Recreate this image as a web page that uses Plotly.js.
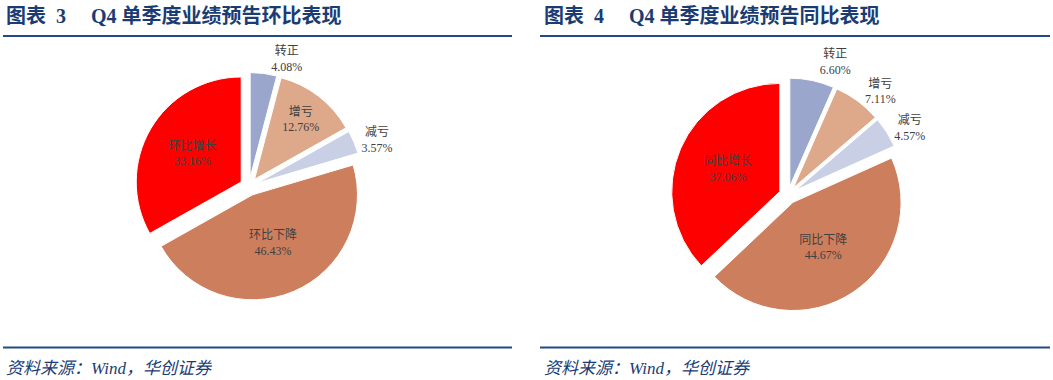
<!DOCTYPE html>
<html>
<head>
<meta charset="utf-8">
<script src="https://cdn.plot.ly/plotly-3.0.1.min.js"></script>
<style>
html,body{margin:0;padding:0;background:#fff;}
#chart{width:1053px;height:380px;}
path.textline{display:none;}
</style>
</head>
<body>
<div id="chart"></div>
<script>
// Data
const titleLeft = "图表\u00A0\u00A03\u3000\u00A0Q4\u00A0单季度业绩预告环比表现";
const titleRight = "图表\u00A0\u00A04\u3000\u00A0Q4\u00A0单季度业绩预告同比表现";
const sourceText = "资料来源：Wind，华创证券";

const labelsLeft = ["转正", "增亏", "减亏", "环比下降", "环比增长"];
const valuesLeft = [4.08, 12.76, 3.57, 46.43, 33.16];

const labelsRight = ["转正", "增亏", "减亏", "同比下降", "同比增长"];
const valuesRight = [6.60, 7.11, 4.57, 44.67, 37.06];

const sliceColors = ["#9AA6CB", "#DDA98A", "#C9CFE4", "#CD7F5D", "#FF0000"];

const W = 1053, H = 380;
const labelFont = {family: "'Liberation Serif', 'Noto Sans CJK SC', serif", size: 12, color: "#404040"};

function pieTrace(labels, values, domain, pull, positions) {
  return {
    type: "pie",
    labels: labels,
    values: values,
    sort: false,
    direction: "clockwise",
    rotation: 0,
    pull: pull,
    domain: domain,
    marker: {colors: sliceColors, line: {color: "#ffffff", width: 1}},
    text: values.map(v => v.toFixed(2) + "%"),
    textinfo: "label+text",
    texttemplate: "%{label}<br>%{text}",
    textposition: positions,
    insidetextorientation: "horizontal",
    textfont: labelFont,
    insidetextfont: labelFont,
    outsidetextfont: labelFont,
    showlegend: false,
    hoverinfo: "label+percent"
  };
}

const trLeft = pieTrace(labelsLeft, valuesLeft,
  {x: [135 / W, 363 / W], y: [(H - 300.5) / H, (H - 72.5) / H]},
  0.086, ["outside", "inside", "outside", "inside", "inside"]);
const trRight = pieTrace(labelsRight, valuesRight,
  {x: [671 / W, 905 / W], y: [(H - 312) / H, (H - 78) / H]},
  0.082, ["outside", "outside", "outside", "inside", "inside"]);

const titleFont = {family: "'Liberation Serif', 'Noto Sans CJK SC', serif", size: 20, color: "#1B3C73"};
const srcFont = {family: "'Liberation Serif', 'Noto Sans CJK SC', serif", size: 17, color: "#1B3C73"};
const lineColor = "#234A85";

const layout = {
  width: W, height: H,
  margin: {l: 0, r: 0, t: 0, b: 0},
  paper_bgcolor: "#ffffff",
  plot_bgcolor: "#ffffff",
  shapes: [
    {type: "line", xref: "paper", yref: "paper", x0: 3 / W, x1: 512 / W, y0: 1 - 36 / H, y1: 1 - 36 / H, line: {color: lineColor, width: 2}},
    {type: "line", xref: "paper", yref: "paper", x0: 540 / W, x1: 1050 / W, y0: 1 - 36 / H, y1: 1 - 36 / H, line: {color: lineColor, width: 2}},
    {type: "line", xref: "paper", yref: "paper", x0: 3 / W, x1: 512 / W, y0: 1 - 347.5 / H, y1: 1 - 347.5 / H, line: {color: lineColor, width: 2}},
    {type: "line", xref: "paper", yref: "paper", x0: 540 / W, x1: 1050 / W, y0: 1 - 347.5 / H, y1: 1 - 347.5 / H, line: {color: lineColor, width: 2}}
  ],
  annotations: [
    {text: "<b>" + titleLeft + "</b>", xref: "paper", yref: "paper", x: 4 / W, y: 1 - 16 / H, xanchor: "left", yanchor: "middle", showarrow: false, font: titleFont},
    {text: "<b>" + titleRight + "</b>", xref: "paper", yref: "paper", x: 542 / W, y: 1 - 16 / H, xanchor: "left", yanchor: "middle", showarrow: false, font: titleFont},
    {text: "<i>" + sourceText + "</i>", xref: "paper", yref: "paper", x: 4 / W, y: 1 - 368 / H, xanchor: "left", yanchor: "middle", showarrow: false, font: srcFont},
    {text: "<i>" + sourceText + "</i>", xref: "paper", yref: "paper", x: 542 / W, y: 1 - 368 / H, xanchor: "left", yanchor: "middle", showarrow: false, font: srcFont}
  ]
};

Plotly.newPlot("chart", [trLeft, trRight], layout, {displayModeBar: false, staticPlot: true});
</script>
</body>
</html>
